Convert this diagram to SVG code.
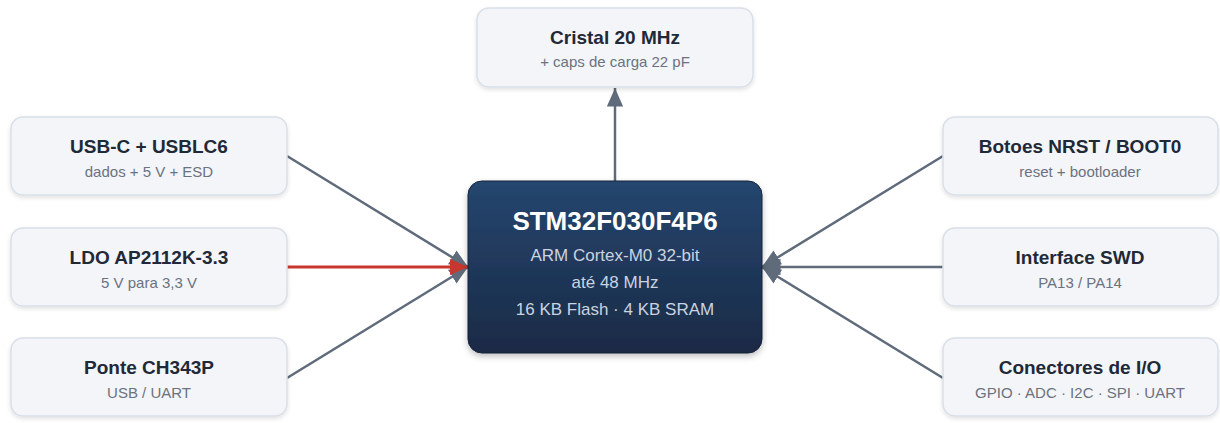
<svg xmlns="http://www.w3.org/2000/svg" width="1220" height="423" viewBox="0 0 1220 423">
<style>
.box{fill:#f3f5f8;stroke:#d9dfe7;stroke-width:1.5}
.t{font-family:"Liberation Sans",Arial,sans-serif;font-size:19px;font-weight:bold;fill:#1f2937;text-anchor:middle}
.s{font-family:"Liberation Sans",Arial,sans-serif;font-size:15px;fill:#6b7280;text-anchor:middle}
.ct{font-family:"Liberation Sans",Arial,sans-serif;font-size:26px;font-weight:bold;fill:#ffffff;text-anchor:middle}
.cs{font-family:"Liberation Sans",Arial,sans-serif;font-size:17px;fill:#c9d3e1;text-anchor:middle}
.e{stroke:#5f6b7a;stroke-width:2.5;fill:none;marker-end:url(#ag)}
.er{stroke:#c8372d;stroke-width:3;fill:none;marker-end:url(#ar)}
</style>
<defs>
<linearGradient id="cg" x1="0" y1="0" x2="0" y2="1">
<stop offset="0" stop-color="#25466f"/>
<stop offset="1" stop-color="#1a2a45"/>
</linearGradient>
<filter id="sh" x="-10%" y="-10%" width="120%" height="130%">
<feDropShadow dx="0" dy="2" stdDeviation="2" flood-color="#000" flood-opacity="0.12"/>
</filter>
<filter id="sh2" x="-10%" y="-10%" width="120%" height="130%">
<feDropShadow dx="0" dy="3" stdDeviation="3" flood-color="#000" flood-opacity="0.25"/>
</filter>
<marker id="ag" viewBox="0 0 10 10" refX="10" refY="5" markerWidth="7.4" markerHeight="7.4" markerUnits="strokeWidth" orient="auto">
<path d="M0,0.6 L10,5 L0,9.4 Z" fill="#5f6b7a"/>
</marker>
<marker id="ar" viewBox="0 0 10 10" refX="10" refY="5" markerWidth="6" markerHeight="6" markerUnits="strokeWidth" orient="auto">
<path d="M0,0.6 L10,5 L0,9.4 Z" fill="#c8372d"/>
</marker>
</defs>
<g id="connectors">
<line class="e" x1="615" y1="181" x2="615" y2="88"/>
<line class="e" x1="287" y1="156" x2="468" y2="267"/>
<line class="e" x1="287" y1="378" x2="468" y2="267"/>
<line class="e" x1="943" y1="156" x2="762" y2="267"/>
<line class="e" x1="943" y1="267" x2="762" y2="267"/>
<line class="e" x1="943" y1="378" x2="762" y2="267"/>
<line class="er" x1="287" y1="267" x2="468" y2="267"/>
</g>
<g id="mcu">
<rect x="468" y="181" width="294" height="172" rx="14" fill="url(#cg)" stroke="#162338" stroke-width="1" filter="url(#sh2)"/>
<text class="ct" x="615" y="230">STM32F030F4P6</text>
<text class="cs" x="615" y="261">ARM Cortex-M0 32-bit</text>
<text class="cs" x="615" y="288">até 48 MHz</text>
<text class="cs" x="615" y="315">16 KB Flash · 4 KB SRAM</text>
</g>
<g id="cristal">
<rect class="box" x="477" y="8" width="276" height="79" rx="12" filter="url(#sh)"/>
<text class="t" x="615" y="44">Cristal 20 MHz</text>
<text class="s" x="615" y="67">+ caps de carga 22 pF</text>
</g>
<g id="usb">
<rect class="box" x="11" y="117" width="276" height="78" rx="12" filter="url(#sh)"/>
<text class="t" x="149" y="153">USB-C + USBLC6</text>
<text class="s" x="149" y="177">dados + 5 V + ESD</text>
</g>
<g id="ldo">
<rect class="box" x="11" y="228" width="276" height="78" rx="12" filter="url(#sh)"/>
<text class="t" x="149" y="264">LDO AP2112K-3.3</text>
<text class="s" x="149" y="288">5 V para 3,3 V</text>
</g>
<g id="ponte">
<rect class="box" x="11" y="338" width="276" height="78" rx="12" filter="url(#sh)"/>
<text class="t" x="149" y="374">Ponte CH343P</text>
<text class="s" x="149" y="398">USB / UART</text>
</g>
<g id="botoes">
<rect class="box" x="943" y="117" width="275" height="78" rx="12" filter="url(#sh)"/>
<text class="t" x="1080" y="153">Botoes NRST / BOOT0</text>
<text class="s" x="1080" y="177">reset + bootloader</text>
</g>
<g id="swd">
<rect class="box" x="943" y="228" width="275" height="78" rx="12" filter="url(#sh)"/>
<text class="t" x="1080" y="264">Interface SWD</text>
<text class="s" x="1080" y="288">PA13 / PA14</text>
</g>
<g id="io">
<rect class="box" x="943" y="338" width="275" height="78" rx="12" filter="url(#sh)"/>
<text class="t" x="1080" y="374">Conectores de I/O</text>
<text class="s" x="1080" y="398">GPIO · ADC · I2C · SPI · UART</text>
</g>
</svg>
